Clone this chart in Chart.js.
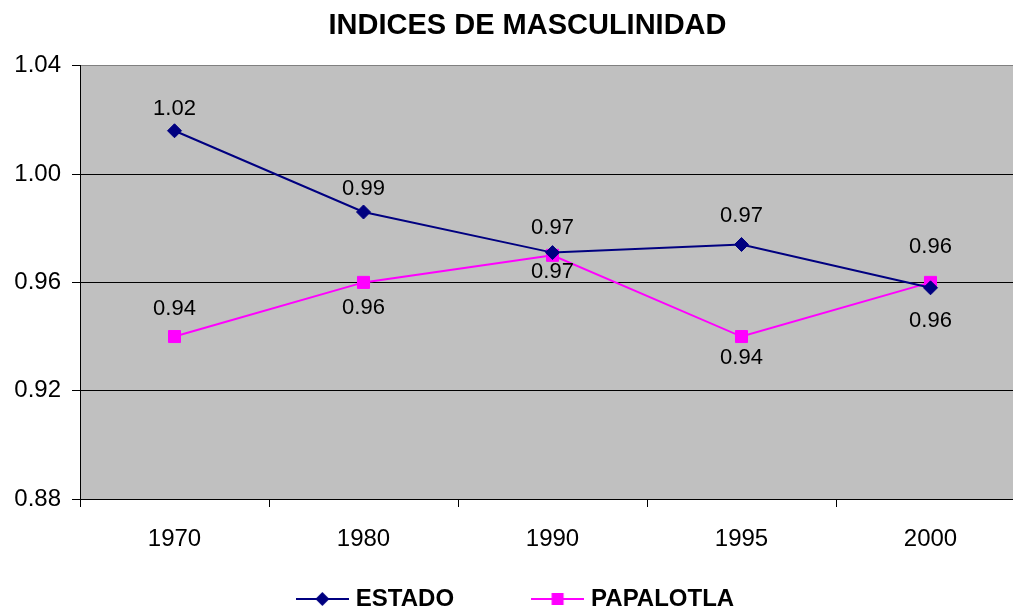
<!DOCTYPE html>
<html>
<head>
<meta charset="utf-8">
<script src="https://cdn.jsdelivr.net/npm/chart.js"></script>
<style>
  html, body { margin: 0; padding: 0; background: #fff; overflow: hidden; }
  #wrap { width: 1055px; height: 621px; position: relative; }
</style>
</head>
<body>
<div id="wrap"><canvas id="myChart"></canvas></div>
<script>
const ctx = document.getElementById('myChart');

// data
const years = ['1970', '1980', '1990', '1995', '2000'];
const estado = [1.016, 0.986, 0.971, 0.974, 0.958];
const papalotla = [0.940, 0.960, 0.970, 0.940, 0.960];
const yMin = 0.88;
const yMax = 1.04;
const yStep = 0.04;

// where each value label sits relative to its point (px, negative = above)
const estadoLabelShift = [-22, -23, -25, -29, 33];
const papalotlaLabelShift = [-28, 26, 17, 21, -35];

const FONT = "'Liberation Sans', Arial, sans-serif";

// legend icon: short line with the marker in the middle
function legendIcon(color, shape) {
    const c = document.createElement('canvas');
    c.width = 53;
    c.height = 16;
    const g = c.getContext('2d');
    g.strokeStyle = color;
    g.lineWidth = 2;
    g.beginPath();
    g.moveTo(0, 8);
    g.lineTo(53, 8);
    g.stroke();
    g.fillStyle = color;
    g.beginPath();
    if (shape === 'diamond') {
        g.moveTo(26.5, 1);
        g.lineTo(33.5, 8);
        g.lineTo(26.5, 15);
        g.lineTo(19.5, 8);
        g.closePath();
    } else {
        g.rect(20.5, 2, 12, 12);
    }
    g.fill();
    return c;
}
const icons = [legendIcon('#000080', 'diamond'), legendIcon('#FF00FF', 'square')];
const legendTail = ['            ', '   '];

// gray plot area
const plotBackground = {
    id: 'plotBackground',
    beforeDraw(chart) {
        const a = chart.chartArea;
        const c = chart.ctx;
        c.save();
        c.fillStyle = '#ffffff';
        c.fillRect(0, 0, chart.width, chart.height);
        c.fillStyle = '#C0C0C0';
        c.fillRect(a.left, a.top, a.right - a.left, a.bottom - a.top);
        c.restore();
    }
};

// value labels next to the points
const valueLabels = {
    id: 'valueLabels',
    afterDatasetsDraw(chart) {
        const c = chart.ctx;
        const shifts = [estadoLabelShift, papalotlaLabelShift];
        c.save();
        c.font = '22px ' + FONT;
        c.fillStyle = '#000000';
        c.textAlign = 'center';
        c.textBaseline = 'middle';
        chart.data.datasets.forEach((ds, i) => {
            chart.getDatasetMeta(i).data.forEach((pt, j) => {
                c.fillText(ds.data[j].toFixed(2), pt.x, pt.y + shifts[i][j]);
            });
        });
        c.restore();
    }
};

new Chart(ctx, {
    type: 'line',
    data: {
        labels: years,
        datasets: [{
            label: 'ESTADO',
            data: estado,
            borderColor: '#000080',
            backgroundColor: '#000080',
            borderWidth: 2,
            pointStyle: 'rectRot',
            pointRadius: 7,
            pointBorderWidth: 1,
            tension: 0
        }, {
            label: 'PAPALOTLA',
            data: papalotla,
            borderColor: '#FF00FF',
            backgroundColor: '#FF00FF',
            borderWidth: 2,
            pointStyle: 'rect',
            pointRadius: 8.5,
            pointBorderWidth: 1,
            tension: 0
        }]
    },
    options: {
        responsive: true,
        maintainAspectRatio: false,
        animation: false,
        layout: { padding: 0 },
        scales: {
            x: {
                offset: true,
                grid: {
                    offset: true,
                    drawOnChartArea: false,
                    color: '#000000',
                    tickLength: 8
                },
                border: { color: '#000000', width: 1 },
                ticks: {
                    color: '#000000',
                    padding: 18,
                    font: { family: FONT, size: 24 }
                },
                afterFit(s) { s.height = 86; }
            },
            y: {
                min: yMin,
                max: yMax,
                grid: {
                    color: (c) => Math.abs(c.tick.value - yMax) < 1e-6 ? '#808080' : '#000000',
                    tickColor: '#000000',
                    tickLength: 8
                },
                border: { color: '#000000', width: 1 },
                ticks: {
                    stepSize: yStep,
                    color: '#000000',
                    padding: 11,
                    font: { family: FONT, size: 24 },
                    callback: (v) => v.toFixed(2)
                },
                afterFit(s) { s.width = 80; }
            },
            spare: {
                position: 'right',
                display: true,
                grid: { display: false },
                border: { display: false },
                ticks: { display: false },
                afterFit(s) { s.width = 30; }
            }
        },
        plugins: {
            title: {
                display: true,
                text: 'INDICES DE MASCULINIDAD',
                color: '#000000',
                font: { family: FONT, size: 29, weight: 'bold' },
                padding: { top: 9, bottom: 22 }
            },
            legend: {
                position: 'bottom',
                labels: {
                    color: '#000000',
                    font: { family: FONT, size: 24, weight: 'bold' },
                    padding: 2,
                    usePointStyle: true,
                    pointStyleWidth: 43,
                    generateLabels(chart) {
                        const items = Chart.defaults.plugins.legend.labels.generateLabels(chart);
                        items.forEach((it, i) => {
                            it.pointStyle = icons[i];
                            it.text = it.text + legendTail[i];
                        });
                        return items;
                    }
                }
            },
            tooltip: { enabled: false }
        }
    },
    plugins: [plotBackground, valueLabels]
});
</script>
</body>
</html>
